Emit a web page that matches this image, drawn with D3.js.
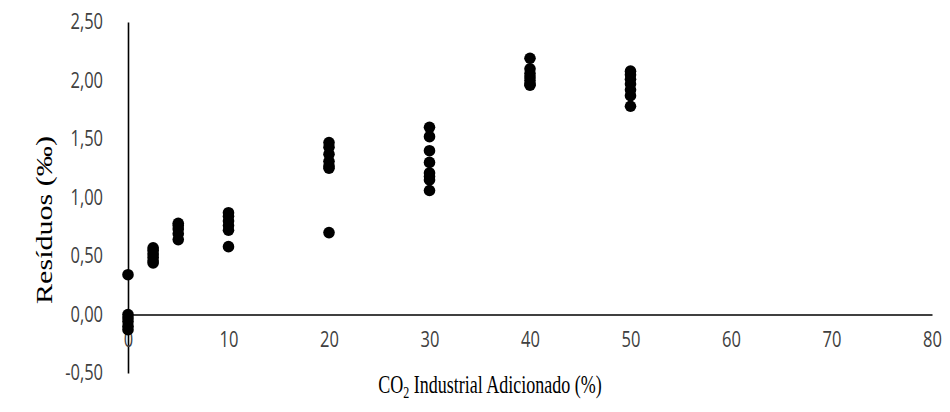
<!DOCTYPE html>
<html>
<head>
<meta charset="utf-8">
<script src="https://cdnjs.cloudflare.com/ajax/libs/d3/7.8.5/d3.min.js"></script>
<style>
  body { margin: 0; background: #fff; }
  svg { display: block; }
</style>
</head>
<body>
<svg id="chart"></svg>
<script>
// CO2 added (%) for each group of measurements
var co2Levels = [0, 2.5, 5, 10, 20, 30, 40, 50];

// residuals (‰), one list per CO2 level
var residuals = [
  [0.34, 0.00, -0.03, -0.06, -0.10, -0.13],
  [0.57, 0.55, 0.52, 0.49, 0.46, 0.44],
  [0.78, 0.76, 0.73, 0.69, 0.64],
  [0.87, 0.84, 0.80, 0.76, 0.72, 0.58],
  [1.47, 1.43, 1.37, 1.31, 1.27, 1.25, 0.70],
  [1.60, 1.52, 1.40, 1.30, 1.21, 1.18, 1.15, 1.06],
  [2.19, 2.10, 2.06, 2.03, 2.00, 1.97, 1.96],
  [2.08, 2.05, 2.01, 1.97, 1.92, 1.87, 1.78]
];

var xTicks = [0, 10, 20, 30, 40, 50, 60, 70, 80];
var yTicks = [-0.5, 0, 0.5, 1, 1.5, 2, 2.5];

var width = 950, height = 412;
var stretch = 1.28;

var points = [];
co2Levels.forEach(function (c, i) {
  residuals[i].forEach(function (r) {
    points.push({ co2: c, res: r });
  });
});

var svg = d3.select("#chart")
  .attr("width", width)
  .attr("height", height);

var x = d3.scaleLinear().domain([0, 80]).range([128, 932]);
var y = d3.scaleLinear().domain([-0.5, 2.5]).range([373, 22]);

// comma decimals, plain hyphen for the minus sign
var fmt = function (d) { return d3.format(".2f")(d).replace(".", ",").replace("\u2212", "-"); };

// y axis
var yAxis = svg.append("g")
  .attr("transform", "translate(" + x(0) + ",0)")
  .call(d3.axisLeft(y).tickValues(yTicks).tickSize(0).tickPadding(25).tickFormat(fmt));
yAxis.select(".domain").attr("stroke", "#000").attr("stroke-width", 1.6);
yAxis.selectAll("text")
  .attr("font-family", "'Open Sans', sans-serif")
  .attr("font-size", 16.5)
  .attr("fill", "#404040")
  .attr("transform", "scale(1," + stretch + ")");

// x axis along zero
var xAxis = svg.append("g")
  .attr("transform", "translate(0," + y(0) + ")")
  .call(d3.axisBottom(x).tickValues(xTicks).tickSize(0).tickPadding(14).tickFormat(d3.format("d")));
xAxis.select(".domain").attr("stroke", "#000").attr("stroke-width", 1.6);
xAxis.selectAll("text")
  .attr("font-family", "'Open Sans', sans-serif")
  .attr("font-size", 16.5)
  .attr("fill", "#404040")
  .attr("transform", "scale(1," + stretch + ")");

// points
svg.append("g")
  .selectAll("circle")
  .data(points)
  .enter()
  .append("circle")
  .attr("cx", function (d) { return x(d.co2); })
  .attr("cy", function (d) { return y(d.res); })
  .attr("r", 5.8)
  .attr("fill", "#000");

// axis titles
var xTitle = svg.append("text")
  .attr("transform", "translate(490,393) scale(1,1.35)")
  .attr("text-anchor", "middle")
  .attr("font-family", "'Liberation Serif', 'Times New Roman', serif")
  .attr("font-size", 18)
  .attr("fill", "#000");
xTitle.append("tspan").text("CO");
xTitle.append("tspan").attr("font-size", 12).attr("dy", 4).text("2");
xTitle.append("tspan").attr("dy", -4).text(" Industrial Adicionado (%)");

svg.append("text")
  .attr("transform", "translate(52,220) scale(1," + stretch + ") rotate(-90)")
  .attr("text-anchor", "middle")
  .attr("font-family", "'Liberation Serif', 'Times New Roman', serif")
  .attr("font-size", 23.5)
  .attr("fill", "#000")
  .text("Resíduos (‰)");
</script>
</body>
</html>
